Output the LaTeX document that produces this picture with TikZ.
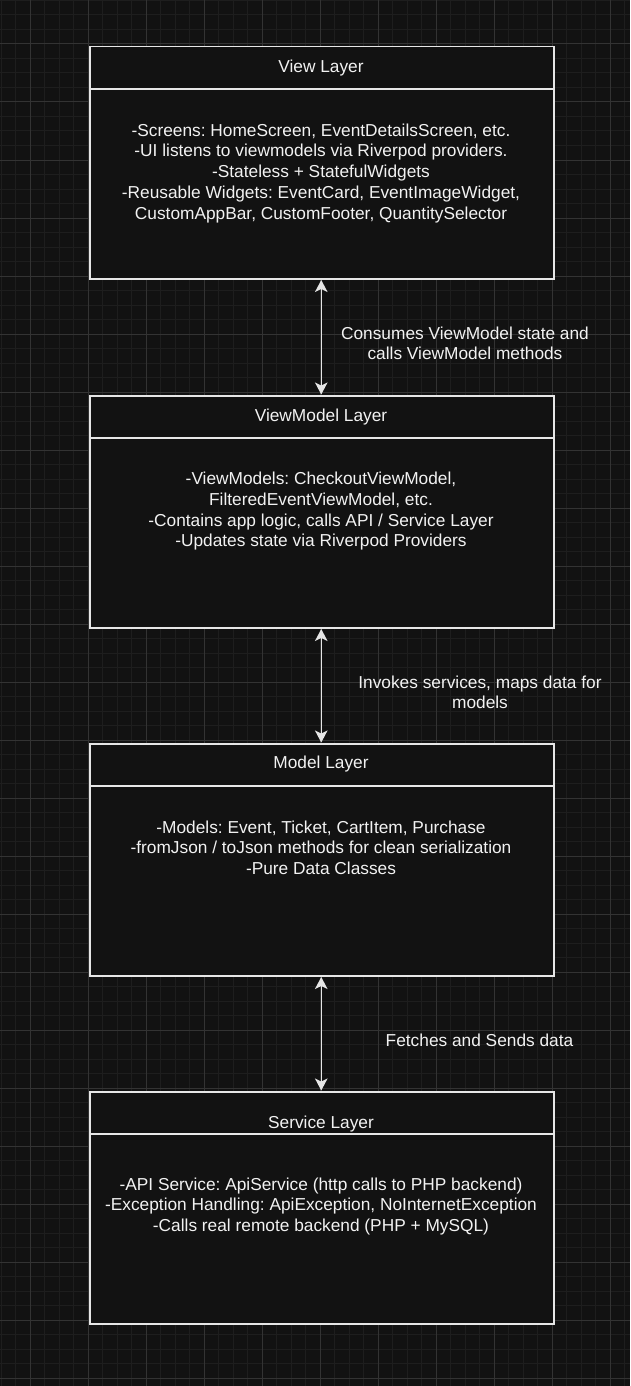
\documentclass[tikz,border=0pt]{standalone}
\usepackage{fontspec}
\setmainfont{Liberation Sans}
\usetikzlibrary{arrows.meta}
\frenchspacing
\definecolor{bgc}{HTML}{121212}
\definecolor{minorc}{HTML}{1E1E1E}
\definecolor{majorc}{HTML}{333333}
\definecolor{edgec}{HTML}{E6E6E6}
\definecolor{txtc}{HTML}{F2F2F2}
\tikzset{
  layerbox/.style={draw=edgec, line width=1.5pt, fill=bgc, minimum width=464pt, minimum height=232pt, anchor=north west, inner sep=0pt},
  boxtext/.style={text=txtc, align=center, inner sep=0pt, font=\fontsize{17.3}{20.8}\selectfont\frenchspacing},
  lbltext/.style={text=txtc, align=center, inner sep=0pt, font=\fontsize{17.3}{20}\selectfont\frenchspacing},
  biarrow/.style={draw=edgec, line width=1.5pt, {Stealth[length=12pt,width=12.5pt,inset=3pt]}-{Stealth[length=12pt,width=12.5pt,inset=3pt]}, shorten <=0.5pt, shorten >=0.5pt},
  minorline/.style={draw=minorc, line width=1pt},
  majorline/.style={draw=majorc, line width=1pt},
}
\begin{document}
\begin{tikzpicture}[x=1pt,y=-1pt]
\useasboundingbox (0,0) rectangle (630,1386);
\fill[bgc] (0,0) rectangle (630,1386);
% grid
\foreach \i in {0,...,43} {\draw[minorline] (1+14.5*\i,0) -- (1+14.5*\i,1386);}
\foreach \i in {0,...,95} {\draw[minorline] (0,0.5+14.5*\i) -- (630,0.5+14.5*\i);}
\foreach \i in {0,...,10} {\draw[majorline] (30+58*\i,0) -- (30+58*\i,1386);}
\foreach \i in {0,...,23} {\draw[majorline] (0,44+58*\i) -- (630,44+58*\i);}
% boxes
\node[layerbox] (v) at (89,46) {};
\node[layerbox] (vm) at (89,395) {};
\node[layerbox] (m) at (89,743) {};
\node[layerbox] (s) at (89,1091) {};
\foreach \b in {v,vm,m,s} {\draw[draw=edgec, line width=1.5pt] ([yshift=-43pt]\b.north west) -- ([yshift=-43pt]\b.north east);}
% titles
\node[boxtext] (vt) at (321,68.3) {View Layer};
\node[boxtext] (vmt) at (321,416.7) {ViewModel Layer};
\node[boxtext] (mt) at (321,764.3) {Model Layer};
\node[boxtext] (st) at (321,1124) {Service Layer};
% bodies
\node[boxtext] (vb) at (321,173.3) {-Screens: HomeScreen, EventDetailsScreen, etc.\\-UI listens to viewmodels via Riverpod providers.\\-Stateless + StatefulWidgets\\-Reusable Widgets: EventCard, EventImageWidget,\\CustomAppBar, CustomFooter, QuantitySelector};
\node[boxtext] (vmb) at (321,511.2) {-ViewModels: CheckoutViewModel,\\FilteredEventViewModel, etc.\\-Contains app logic, calls API / Service Layer\\-Updates state via Riverpod Providers};
\node[boxtext] (mb) at (321,847.8) {-Models: Event, Ticket, CartItem, Purchase\\-fromJson / toJson methods for clean serialization\\-Pure Data Classes};
\node[boxtext] (sb) at (321,1206.5) {-API Service: ApiService (http calls to PHP backend)\\-Exception Handling: ApiException, NoInternetException\\-Calls real remote backend (PHP + MySQL)};
% connectors
\draw[biarrow] ([xshift=-0.5pt]v.south) -- ([xshift=-0.5pt]vm.north);
\draw[biarrow] ([xshift=-0.5pt]vm.south) -- ([xshift=-0.5pt]m.north);
\draw[biarrow] ([xshift=-0.5pt]m.south) -- ([xshift=-0.5pt]s.north);
% labels
\node[lbltext] (l1) at (465,343.3) {Consumes ViewModel state and\\calls ViewModel methods};
\node[lbltext] (l2) at (480,692) {Invokes services, maps data for\\models};
\node[lbltext] (l3) at (479.5,1040) {Fetches and Sends data};
\end{tikzpicture}
\end{document}
